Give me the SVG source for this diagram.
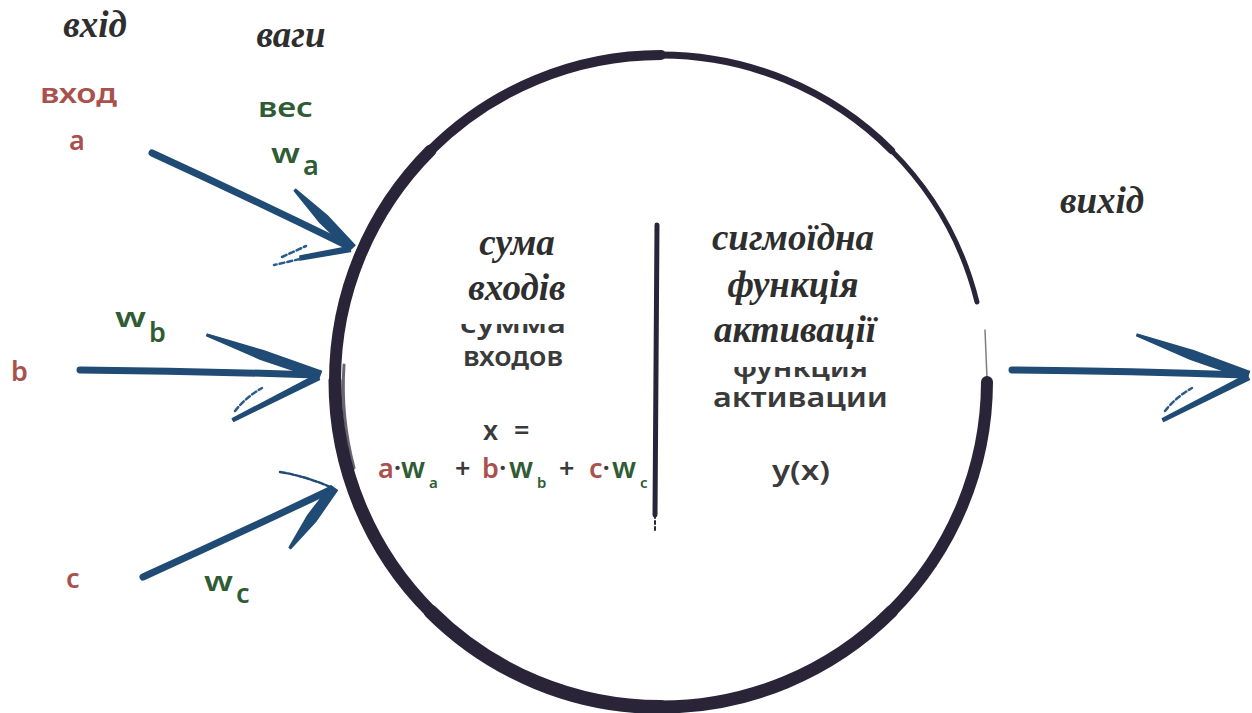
<svg xmlns="http://www.w3.org/2000/svg" width="1252" height="713" viewBox="0 0 1252 713">
<defs>
<style>
.ua{font-family:"Liberation Serif","Times New Roman",serif;font-style:italic;font-weight:bold;font-size:37px;fill:#2e2e2e;text-anchor:middle}
.hw{font-family:"Noto Sans","Open Sans",sans-serif;font-weight:600;font-size:27px}
.red{fill:#a9524d}
.grn{fill:#2f5c35}
.drk{fill:#3a3a3a}
.ring{fill:none;stroke:#2a2438;stroke-linecap:round}
.shaft{fill:none;stroke:#1f4b74;stroke-linecap:round;stroke-linejoin:round}
.barb{fill:#1f4b74;stroke:#1f4b74;stroke-width:1.5;stroke-linejoin:round}
.thin{fill:none;stroke:#2a5c88;stroke-width:2.5;stroke-dasharray:5 3;stroke-linecap:round}
</style>
<clipPath id="clipSum"><rect x="440" y="324" width="150" height="30"/></clipPath>
<clipPath id="clipFun"><rect x="700" y="367" width="200" height="30"/></clipPath>
</defs>
<rect width="1252" height="713" fill="#ffffff"/>

<g id="neuron">
  <path class="ring" stroke-width="12" d="M987,382 A326,326 0 0 1 891.5,611.5"/>
  <path class="ring" stroke-width="13" d="M891.5,611.5 A326,326 0 0 1 661,707"/>
  <path class="ring" stroke-width="14" d="M661,707 A326,326 0 0 1 430.5,611.5"/>
  <path class="ring" stroke-width="13" d="M430.5,611.5 A326,326 0 0 1 335,381"/>
  <path class="ring" stroke-width="12" d="M335,381 A326,326 0 0 1 430.5,150.5"/>
  <path class="ring" stroke-width="10" d="M430.5,150.5 A326,326 0 0 1 661,55"/>
  <path class="ring" stroke-width="7" d="M661,55 A326,326 0 0 1 891.5,150.5"/>
  <path class="ring" stroke-width="5" d="M891.5,150.5 A326,326 0 0 1 977,302"/>
  <path class="ring" stroke-width="3" d="M344,365 A318,318 0 0 0 354,468" opacity="0.7"/>
  <path class="ring" stroke-width="1.5" d="M985,330 L987,378" opacity="0.6"/>
  <path class="ring" stroke-width="5" d="M657,225 Q656,380 655,515"/>
  <path class="ring" stroke-width="2" stroke-dasharray="3 3" d="M655,515 L655,533"/>
</g>

<g id="sum-block">
  <text class="ua" x="517" y="255">сума</text>
  <text class="ua" x="517" y="300">входів</text>
  <text class="hw drk" x="460" y="333" textLength="106" lengthAdjust="spacingAndGlyphs" clip-path="url(#clipSum)">сумма</text>
  <text class="hw drk" x="463" y="366" textLength="100" lengthAdjust="spacingAndGlyphs">входов</text>
  <text class="hw drk" y="440"><tspan x="483">x</tspan><tspan x="514">=</tspan></text>
  <text class="hw" font-size="26">
    <tspan class="red" x="378" y="478">a<tspan class="drk">·</tspan></tspan><tspan class="grn" x="401" y="478" font-size="29">w</tspan><tspan class="grn" x="429" y="488" font-size="15">a</tspan>
    <tspan class="drk" x="455" y="478">+</tspan>
    <tspan class="red" x="482" y="478">b<tspan class="drk">·</tspan></tspan><tspan class="grn" x="509" y="478" font-size="29">w</tspan><tspan class="grn" x="537" y="488" font-size="15">b</tspan>
    <tspan class="drk" x="559" y="478">+</tspan>
    <tspan class="red" x="589" y="478">c<tspan class="drk">·</tspan></tspan><tspan class="grn" x="612" y="478" font-size="29">w</tspan><tspan class="grn" x="640" y="488" font-size="15">c</tspan>
  </text>
</g>

<g id="activation-block">
  <text class="ua" x="793" y="250">сигмоїдна</text>
  <text class="ua" x="793" y="297">функція</text>
  <text class="ua" x="795" y="342">активації</text>
  <text class="hw drk" x="733" y="377" textLength="135" lengthAdjust="spacingAndGlyphs" clip-path="url(#clipFun)">функция</text>
  <text class="hw drk" x="713" y="407" textLength="175" lengthAdjust="spacingAndGlyphs">активации</text>
  <text class="hw drk" x="772" y="480" textLength="58" lengthAdjust="spacingAndGlyphs">y(x)</text>
</g>

<g id="input-a">
  <text class="ua" x="95" y="37">вхід</text>
  <text class="hw red" x="40" y="103" textLength="77" lengthAdjust="spacingAndGlyphs">вход</text>
  <text class="hw red" x="69" y="150">a</text>
</g>
<g id="weights-label">
  <text class="ua" x="291" y="47">ваги</text>
  <text class="hw grn" x="258" y="117" textLength="55" lengthAdjust="spacingAndGlyphs">вес</text>
</g>
<g id="weight-a">
  <text class="hw grn" x="271" y="163" font-size="31" textLength="29" lengthAdjust="spacingAndGlyphs">w</text>
  <text class="hw grn" x="303" y="175" font-size="15">a</text>
</g>
<g id="input-b">
  <text class="hw red" x="11" y="381" font-size="29">b</text>
</g>
<g id="weight-b">
  <text class="hw grn" x="115" y="327" font-size="31" textLength="31" lengthAdjust="spacingAndGlyphs">w</text>
  <text class="hw grn" x="149" y="342" font-size="15">b</text>
</g>
<g id="input-c">
  <text class="hw red" x="66" y="588">c</text>
</g>
<g id="weight-c">
  <text class="hw grn" x="204" y="591" font-size="31" textLength="29" lengthAdjust="spacingAndGlyphs">w</text>
  <text class="hw grn" x="236" y="603" font-size="15">c</text>
</g>
<g id="output">
  <text class="ua" x="1102" y="213">вихід</text>
</g>

<g id="connectors">
  <!-- arrow a -->
  <path class="shaft" stroke-width="7" d="M152,153 Q250,198 346,245"/>
  <polygon class="barb" points="295.7,189.3 327.1,215.5 354.9,245.2 349.1,250.8 319.9,222.5 294.3,190.7"/>
  <polygon class="barb" points="349.5,246.5 300,256 300,260 350.5,251.5"/>
  <path class="thin" d="M300,259 L274,265"/>
  <path class="thin" d="M282,257 L306,246"/>
  <!-- arrow b -->
  <path class="shaft" stroke-width="7" d="M80,370 Q200,371 316,375"/>
  <polygon class="barb" points="207.3,334.1 263.5,350.8 321.4,371.2 318.6,378.8 260.5,359.2 206.7,335.9"/>
  <polygon class="barb" points="316.6,374.3 232.3,418.7 233.7,421.3 319.4,379.7"/>
  <path class="thin" d="M235,411 Q246,397 262,388"/>
  <!-- arrow c -->
  <path class="shaft" stroke-width="7" d="M143,577 Q240,533 330,490"/>
  <polygon class="barb" points="289.2,547.4 307.9,515.1 330.7,485.7 337.3,490.3 316.1,520.9 290.8,548.6"/>
  <path class="shaft" stroke-width="2.5" stroke-dasharray="6 2" d="M280,472 Q305,476 333,488"/>
  <!-- output arrow -->
  <path class="shaft" stroke-width="7" d="M1012,370 Q1130,371 1245,375"/>
  <polygon class="barb" points="1137.3,334.1 1193.5,350.8 1249.5,371.5 1246.6,378.8 1190.5,359.2 1136.7,335.9"/>
  <polygon class="barb" points="1246.6,374.3 1162.3,418.7 1163.7,421.3 1249.4,379.7"/>
  <path class="thin" d="M1165,411 Q1176,397 1192,388"/>
</g>
</svg>
